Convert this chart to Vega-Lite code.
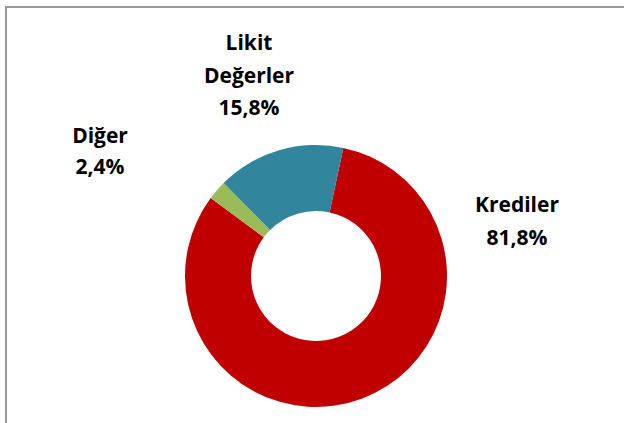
{
  "$schema": "https://vega.github.io/schema/vega-lite/v6.json",
  "width": 620,
  "height": 538,
  "autosize": {"type": "none"},
  "padding": {"left": 6, "top": 7, "right": 0, "bottom": 0},
  "background": "white",
  "view": {"stroke": "#999999", "strokeWidth": 2, "fill": "white"},
  "data": {
    "values": [
      {"kategori": "Krediler", "pay": 81.8, "sira": 1, "etiket": "Krediler\n81,8%"},
      {"kategori": "Diğer", "pay": 2.4, "sira": 2, "etiket": "Diğer\n2,4%"},
      {"kategori": "Likit Değerler", "pay": 15.8, "sira": 3, "etiket": "Likit\nDeğerler\n15,8%"}
    ]
  },
  "layer": [
    {
      "mark": {"type": "arc", "innerRadius": 65, "outerRadius": 131},
      "encoding": {
        "theta": {"field": "pay", "type": "quantitative", "stack": true, "scale": {"range": [0.21, 6.4932]}},
        "order": {"field": "sira", "type": "quantitative"},
        "color": {
          "field": "kategori",
          "type": "nominal",
          "scale": {"domain": ["Krediler", "Diğer", "Likit Değerler"], "range": ["#C00000", "#9BBB59", "#31859C"]},
          "legend": null
        }
      }
    },
    {
      "transform": [{"filter": "datum.kategori == 'Krediler'"}],
      "mark": {"type": "text", "font": "Open Sans", "fontSize": 21, "fontWeight": "bold", "lineHeight": 33, "lineBreak": "\n", "align": "center", "baseline": "alphabetic", "color": "black", "dx": 201, "dy": -64},
      "encoding": {"text": {"field": "etiket"}}
    },
    {
      "transform": [{"filter": "datum.kategori == 'Diğer'"}],
      "mark": {"type": "text", "font": "Open Sans", "fontSize": 21, "fontWeight": "bold", "lineHeight": 31, "lineBreak": "\n", "align": "center", "baseline": "alphabetic", "color": "black", "dx": -216, "dy": -133},
      "encoding": {"text": {"field": "etiket"}}
    },
    {
      "transform": [{"filter": "datum.kategori == 'Likit Değerler'"}],
      "mark": {"type": "text", "font": "Open Sans", "fontSize": 21, "fontWeight": "bold", "lineHeight": 32.5, "lineBreak": "\n", "align": "center", "baseline": "alphabetic", "color": "black", "dx": -67, "dy": -226},
      "encoding": {"text": {"field": "etiket"}}
    }
  ]
}
